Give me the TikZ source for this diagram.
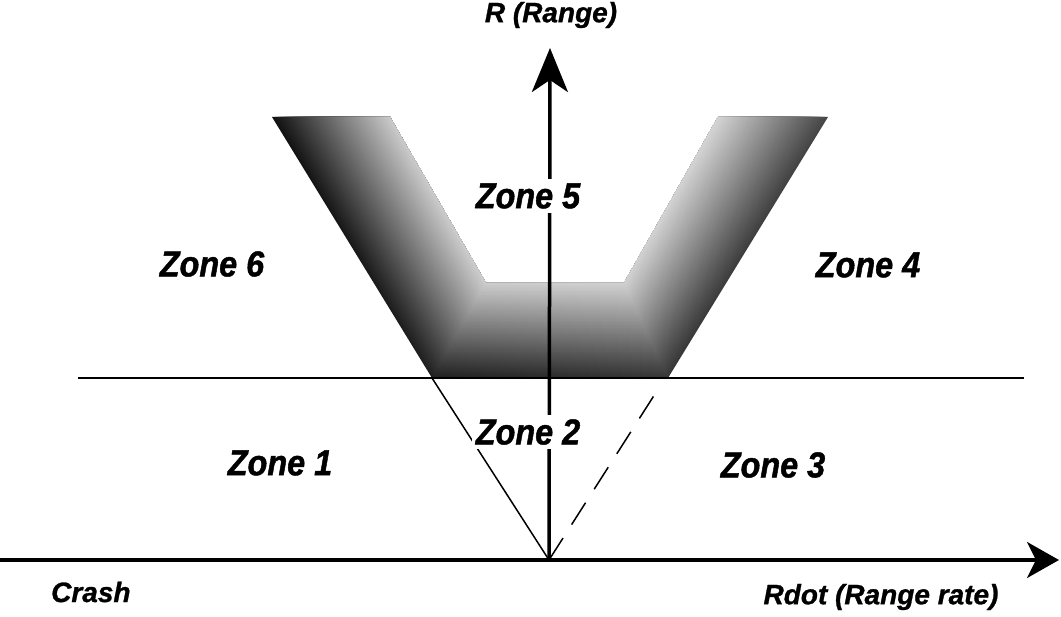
\documentclass[tikz,border=0pt]{standalone}
\usepackage{fontspec}
\setmainfont{Liberation Sans}
\newfontfamily\zonefont{Liberation Sans Bold Italic}[FakeStretch=0.9, FakeBold=1.2]
\newfontfamily\axfont{Liberation Sans Bold Italic}[FakeBold=1]
\usetikzlibrary{arrows.meta}
\begin{document}
\begin{tikzpicture}[x=1pt,y=-1pt,
  lbl/.style={font=\zonefont\fontsize{36}{36}\selectfont, inner sep=4pt},
  axislbl/.style={font=\axfont\fontsize{28}{28}\selectfont, inner sep=0pt},
  axisline/.style={line width=3.5pt},
  thinline/.style={line width=1.5pt},
  dashline/.style={line width=1.5pt, dash pattern=on 26pt off 16pt}]
\useasboundingbox (0,0) rectangle (1061,617);
% shaded V region (nested bands, dark outside to light inside)
\foreach \i in {0,...,40} {
  \pgfmathsetmacro\t{\i/40}
  \pgfmathsetmacro\ca{93-73*\t}
  \pgfmathsetmacro\cb{72-56*\t}
  \shade[left color=black!\ca, right color=black!\cb]
    ({272+118*\t},117) -- ({432+54*\t},{378-95*\t}) -- ({668-44*\t},{378-95*\t})
    -- ({828-110*\t},117) -- (718,117) -- (624,283) -- (486,283) -- (390,117) -- cycle;
}
\coordinate (O) at (549,560);
\coordinate (xstart) at (0,560);
\coordinate (xend) at (1059,560);
\coordinate (ytip) at (550,48);
\coordinate (hl) at (78,378);
\coordinate (hr) at (1024,378);
\coordinate (vl) at (432,378);
\coordinate (dtop) at (662,383);
\draw[thinline] (hl) -- (hr);
\draw[thinline] (O) -- (vl);
\draw[dashline] (O) -- (dtop);
\draw[axisline, -{Stealth[length=44pt,width=36pt,inset=12pt]}] (O) -- (ytip);
\draw[axisline, -{Stealth[length=32pt,width=36pt,inset=9pt]}] (xstart) -- (xend);
% labels
\node[axislbl] (rlabel) at (551,15) {R (Range)};
\node[axislbl, anchor=west] (crash) at (51,592) {Crash};
\node[axislbl] (rdot) at (881,597) {Rdot (Range rate)};
\node[lbl, fill=white] (z5) at (528,196) {Zone 5};
\node[lbl, fill=white] (z2) at (528,432) {Zone 2};
\node[lbl] (z6) at (212,264) {Zone 6};
\node[lbl] (z4) at (868,265) {Zone 4};
\node[lbl] (z1) at (280,463) {Zone 1};
\node[lbl] (z3) at (773,465) {Zone 3};
\end{tikzpicture}
\end{document}
